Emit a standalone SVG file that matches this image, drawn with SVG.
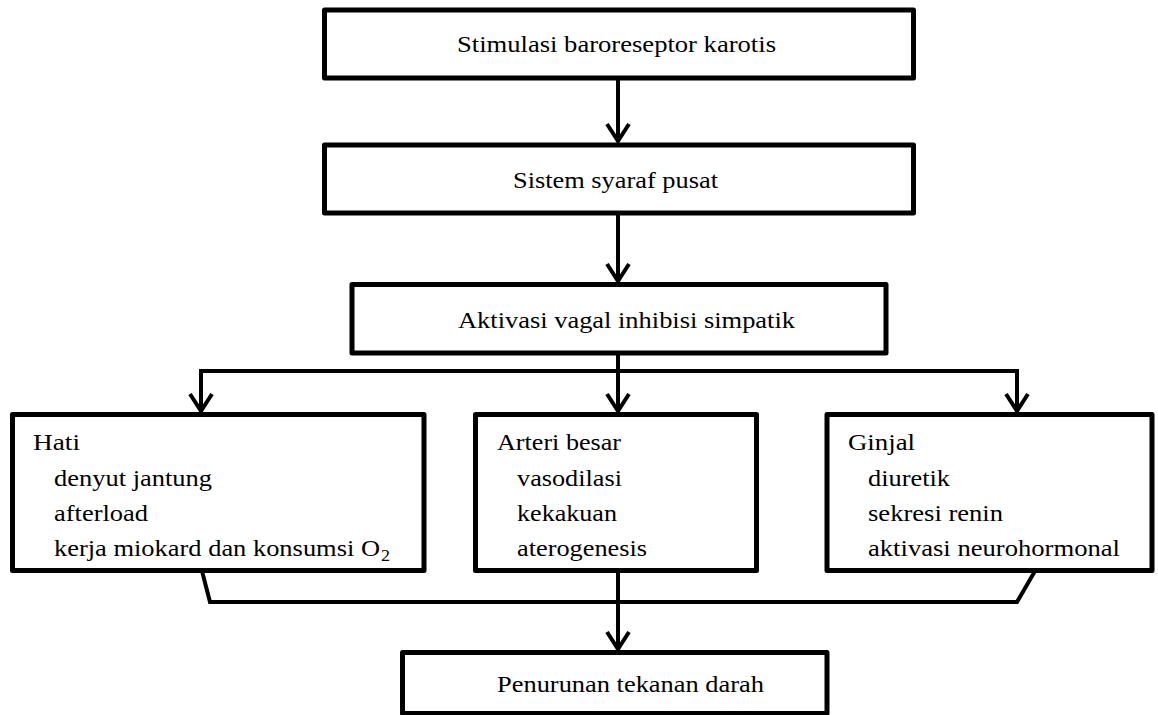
<svg xmlns="http://www.w3.org/2000/svg" width="1158" height="715" viewBox="0 0 1158 715">
<style>
.box{fill:#fff;stroke:#000;stroke-width:5;stroke-linejoin:round}
.t{font-family:"Liberation Serif","Times New Roman",serif;font-size:23.5px;fill:#000}
.sub{font-family:"Liberation Serif","Times New Roman",serif;font-size:16px;fill:#000}
.c{fill:none;stroke:#000;stroke-width:4}
.ah{fill:none;stroke:#000;stroke-width:4;stroke-linejoin:miter}
</style>
<rect width="1158" height="715" fill="#fff"/>
<g id="connectors">
<path class="c" d="M618 78 V141"/>
<path class="ah" d="M607 124 L618 141 L629 124"/>
<path class="c" d="M618 213 V281"/>
<path class="ah" d="M607 264 L618 281 L629 264"/>
<path class="c" d="M618 353 V411"/>
<path class="ah" d="M607 394 L618 411 L629 394"/>
<path class="c" d="M201 412 V371 H1017 V412"/>
<path class="ah" d="M190 394 L201 411 L212 394"/>
<path class="ah" d="M1006 394 L1017 411 L1028 394"/>
<path class="c" d="M202 571 L210 602 H1017 L1035 571"/>
<path class="c" d="M618 571 V649"/>
<path class="ah" d="M607 632 L618 649 L629 632"/>
</g>
<g id="n1">
<rect class="box" x="324.5" y="10" width="589" height="68"/>
<text class="t" x="457" y="52" textLength="319" lengthAdjust="spacingAndGlyphs">Stimulasi baroreseptor karotis</text>
</g>
<g id="n2">
<rect class="box" x="324.5" y="145" width="589" height="68"/>
<text class="t" x="513" y="188" textLength="205" lengthAdjust="spacingAndGlyphs">Sistem syaraf pusat</text>
</g>
<g id="n3">
<rect class="box" x="352" y="284.5" width="534" height="68.5"/>
<text class="t" x="458" y="328" textLength="337" lengthAdjust="spacingAndGlyphs">Aktivasi vagal inhibisi simpatik</text>
</g>
<g id="n4">
<rect class="box" x="12.5" y="414.5" width="411.5" height="156"/>
<text class="t" x="33" y="450" textLength="47" lengthAdjust="spacingAndGlyphs">Hati</text>
<text class="t" x="54" y="486" textLength="158" lengthAdjust="spacingAndGlyphs">denyut jantung</text>
<text class="t" x="54" y="521" textLength="94" lengthAdjust="spacingAndGlyphs">afterload</text>
<text class="t" x="54" y="556" textLength="326" lengthAdjust="spacingAndGlyphs">kerja miokard dan konsumsi O</text>
<text class="sub" x="381" y="561" textLength="9" lengthAdjust="spacingAndGlyphs">2</text>
</g>
<g id="n5">
<rect class="box" x="475.5" y="414.5" width="281" height="156"/>
<text class="t" x="497" y="450" textLength="124" lengthAdjust="spacingAndGlyphs">Arteri besar</text>
<text class="t" x="517" y="486" textLength="105" lengthAdjust="spacingAndGlyphs">vasodilasi</text>
<text class="t" x="517" y="521" textLength="100" lengthAdjust="spacingAndGlyphs">kekakuan</text>
<text class="t" x="517" y="556" textLength="130" lengthAdjust="spacingAndGlyphs">aterogenesis</text>
</g>
<g id="n6">
<rect class="box" x="827" y="414.5" width="325" height="156"/>
<text class="t" x="848" y="450" textLength="67" lengthAdjust="spacingAndGlyphs">Ginjal</text>
<text class="t" x="868" y="486" textLength="82" lengthAdjust="spacingAndGlyphs">diuretik</text>
<text class="t" x="868" y="521" textLength="135" lengthAdjust="spacingAndGlyphs">sekresi renin</text>
<text class="t" x="868" y="556" textLength="252" lengthAdjust="spacingAndGlyphs">aktivasi neurohormonal</text>
</g>
<g id="n7">
<rect class="box" x="402.5" y="652.5" width="424.5" height="61"/>
<text class="t" x="497" y="692" textLength="267" lengthAdjust="spacingAndGlyphs">Penurunan tekanan darah</text>
</g>
</svg>
